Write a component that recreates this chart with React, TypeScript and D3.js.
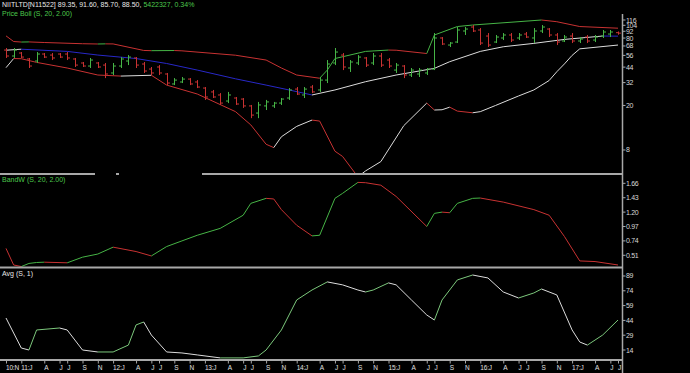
import React from "react";
import * as d3 from "d3";

// monthly bars, month 0 = Nov 2010 ... month 80 = Jul 2017
const opens = [
  62.5, 55.3, 58.8, 52.0, 49.9, 57.6, 56.4, 57.6, 57.6, 52.0,
  47.9, 45.0, 47.9, 45.9, 39.0, 45.0, 49.9, 53.1, 46.9, 42.3,
  44.1, 38.2, 31.1, 32.4, 34.4, 32.4, 28.6, 26.4, 24.8, 21.9,
  23.3, 22.8, 19.8, 17.1, 19.8, 19.8, 21.0, 23.3, 28.0, 24.8,
  29.2, 27.5, 33.7, 47.9, 56.4, 43.2, 47.9, 53.1, 47.9, 55.3,
  50.9, 41.4, 45.0, 37.4, 38.2, 39.0, 42.3, 80.1, 69.3, 73.7,
  92.5, 100.4, 94.4, 83.4, 73.7, 80.1, 85.2, 80.1, 86.9, 80.1,
  92.5, 96.3, 85.2, 75.3, 83.4, 75.3, 81.7, 76.8, 83.4, 86.9,
  89.35,
];
const highs = [
  65.2, 65.2, 60.0, 53.1, 60.0, 58.8, 58.8, 58.8, 60.0, 53.1,
  48.9, 53.1, 48.9, 47.9, 47.9, 54.1, 56.4, 54.1, 48.9, 44.1,
  45.9, 39.0, 35.1, 35.9, 35.1, 33.7, 29.2, 27.5, 25.8, 26.4,
  23.8, 23.3, 20.2, 21.5, 22.4, 21.5, 23.3, 28.6, 29.2, 29.2,
  30.4, 35.9, 50.9, 65.2, 58.8, 50.9, 56.4, 54.1, 58.8, 58.8,
  53.1, 47.9, 45.9, 43.2, 43.2, 43.2, 88.7, 81.7, 73.7, 100.4,
  100.4, 104.6, 98.3, 88.7, 85.2, 88.7, 88.7, 88.7, 90.6, 98.3,
  104.6, 98.3, 88.7, 85.2, 88.7, 81.7, 85.2, 85.2, 94.4, 94.4,
  91.6,
];
const lows = [
  53.1, 53.1, 53.1, 43.2, 47.9, 53.1, 50.9, 53.1, 50.9, 44.1,
  44.1, 43.2, 43.2, 35.1, 37.4, 43.2, 45.9, 43.2, 39.0, 37.4,
  37.4, 30.4, 30.4, 31.7, 30.4, 28.6, 22.4, 23.3, 20.2, 21.0,
  20.2, 19.0, 15.4, 15.4, 18.2, 19.0, 20.2, 22.4, 24.8, 23.3,
  25.8, 26.4, 31.7, 45.9, 41.4, 39.8, 45.9, 44.1, 45.9, 44.1,
  43.2, 39.0, 35.1, 35.9, 35.9, 37.4, 41.4, 69.3, 66.5, 72.2,
  85.2, 90.6, 69.3, 66.5, 72.2, 76.8, 73.7, 76.8, 80.1, 72.2,
  88.7, 81.7, 69.3, 73.7, 72.2, 72.2, 72.2, 73.7, 80.1, 81.7,
  85.7,
];
const closes = [
  55.3, 62.5, 54.1, 45.0, 57.6, 54.1, 53.1, 54.1, 53.1, 45.9,
  45.0, 50.9, 44.1, 38.2, 45.0, 52.0, 54.1, 45.9, 40.6, 39.0,
  39.0, 31.7, 33.7, 34.4, 31.1, 29.2, 23.8, 23.8, 21.0, 24.8,
  20.6, 19.8, 16.4, 20.2, 21.5, 21.0, 22.8, 27.5, 25.3, 28.0,
  26.4, 33.7, 46.9, 60.0, 44.1, 48.9, 54.1, 45.9, 55.3, 45.9,
  45.0, 45.9, 37.4, 41.4, 41.4, 42.3, 80.1, 70.8, 72.2, 94.4,
  96.3, 92.5, 72.2, 69.3, 81.7, 85.2, 76.8, 85.2, 81.7, 92.5,
  100.4, 85.2, 73.7, 81.7, 75.3, 78.4, 75.3, 81.7, 90.6, 90.6,
  88.5,
];

// Bollinger lines, read at the months where they bend
const upperMonths = [0, 1, 2, 3, 5, 10, 12, 13, 14, 18, 19, 22, 23, 30, 34, 36, 38, 41, 42, 43, 47, 50, 51, 55, 56, 59, 61, 70, 72, 75, 80];
const upperBand = [83.7, 74.5, 73.7, 73.9, 73.0, 71.2, 70.8, 71.0, 70.9, 62.0, 61.7, 61.9, 61.5, 56.2, 50.9, 43.2, 37.4, 35.0, 41.4, 52.5, 60.8, 62.5, 62.3, 58.2, 85.2, 101.4, 104.6, 116.0, 112.0, 101.4, 98.0];

const middleMonths = [0, 2, 8, 12, 17, 21, 25, 30, 34, 37, 40, 43, 47, 51, 56, 58, 62, 65, 69, 73, 78, 80];
const middleBand = [62.3, 63.6, 60.8, 56.4, 52.5, 47.4, 41.4, 34.6, 30.4, 27.5, 24.8, 27.5, 32.6, 37.4, 42.9, 49.2, 60.8, 66.9, 71.7, 77.8, 83.4, 83.2];

const lowerMonths = [0, 1, 2, 4, 8, 12, 15, 19, 21, 25, 30, 32, 34, 35, 36, 38, 40, 41, 43, 44, 46, 47, 49, 52, 55, 56, 57, 58, 59, 61, 62, 64, 67, 69, 71, 72, 73, 74, 75, 80];
const lowerBand = [43.5, 52.5, 52.3, 48.5, 43.2, 37.4, 36.6, 37.2, 30.4, 25.3, 17.6, 13.4, 9.0, 8.4, 10.5, 13.0, 14.8, 14.5, 7.8, 7.0, 4.6, 5.2, 6.3, 13.2, 21.0, 18.2, 18.3, 19.3, 17.8, 17.2, 17.6, 20.0, 24.3, 27.5, 33.4, 40.0, 47.0, 56.0, 64.1, 69.3];

const bandWMonths = [0, 1, 2, 3, 4, 5, 8, 10, 12, 14, 17, 19, 21, 23, 25, 28, 31, 32, 34, 35, 36, 38, 40, 41, 43, 44, 46, 47, 49, 51, 55, 56, 57, 58, 59, 61, 62, 65, 69, 71, 73, 75, 77, 80];
const bandW = [0.62, 0.355, 0.33, 0.38, 0.395, 0.4, 0.39, 0.48, 0.53, 0.64, 0.57, 0.5, 0.65, 0.74, 0.83, 0.94, 1.15, 1.34, 1.42, 1.41, 1.24, 0.99, 0.82, 0.83, 1.42, 1.5, 1.675, 1.67, 1.63, 1.45, 0.97, 1.18, 1.2, 1.19, 1.34, 1.42, 1.425, 1.36, 1.24, 1.15, 0.81, 0.42, 0.41, 0.355];

const avgMonths = [0, 2, 3, 4, 7, 8, 10, 12, 14, 16, 17, 18, 19, 21, 23, 25, 28, 31, 33, 34, 36, 38, 40, 42, 44, 46, 47, 48, 50, 51, 53, 55, 56, 57, 59, 61, 63, 65, 67, 69, 70, 72, 74, 75, 76, 78, 80];
const avgLine = [46.4, 16, 14, 34.3, 36.3, 34.3, 14, 12, 12, 19, 39.4, 42.4, 29.2, 12, 11, 9, 6, 6, 8, 14, 34.3, 64.7, 74.8, 83, 80, 74.8, 72.8, 74.8, 82, 80, 64.7, 49.5, 44.4, 64.7, 85, 90, 87, 72.8, 66.7, 71.8, 75.8, 69.8, 34.3, 22.1, 19, 29.2, 44.4];

const priceTicks = [8, 20, 32, 44, 56, 68, 80, 92, 104, 116];
const bandTicks = [0.51, 0.74, 0.97, 1.2, 1.43, 1.66];
const avgTicks = [14, 29, 44, 59, 74, 89];

const xTickMonths = [0, 2, 5, 7, 8, 10, 12, 14, 17, 19, 20, 22, 24, 26, 29, 31, 32, 34, 36, 38, 41, 43, 44, 46, 48, 50, 53, 55, 56, 58, 60, 62, 65, 67, 68, 70, 72, 74, 77, 79, 80];
const xTickLabels = ["10:N", "11:J", "A", "J", "J", "S", "N", "12:J", "A", "J", "J", "S", "N", "13:J", "A", "J", "J", "S", "N", "14:J", "A", "J", "J", "S", "N", "15:J", "A", "J", "J", "S", "N", "16:J", "A", "J", "J", "S", "N", "17:J", "A", "J", "J"];

const RED = "#c83232";
const GREEN = "#46b446";
const WHITE = "#dcdcdc";
const BLUE = "#2828c8";
const AXIS = "#a8a8a8";
const FONT = "'Liberation Sans', Arial, sans-serif";

const x = d3.scaleLinear().domain([0, 80]).range([6, 618]);
const yPrice = d3.scaleLog().domain([4.88, 142.5]).range([174, 10]);
const yBand = d3.scaleLinear().domain([0.315, 1.817]).range([267.5, 173.5]);
const yAvg = d3.scaleLinear().domain([3.87, 97.6]).range([360, 267.5]);

// one segment per step, coloured by direction
const segments = (months, vals, y, up, down, key) =>
  d3.pairs(d3.zip(months, vals)).map(([a, b], i) => (
    <line
      key={key + i}
      x1={x(a[0])}
      y1={y(a[1])}
      x2={x(b[0])}
      y2={y(b[1])}
      stroke={b[1] >= a[1] ? up : down}
      strokeWidth={1}
    />
  ));

const App = () => {
  const bars = opens.map((o, i) => {
    const c = closes[i];
    const col = c >= o ? GREEN : RED;
    const cx = Math.round(x(i)) + 0.5;
    return (
      <g key={"b" + i} stroke={col} strokeWidth={1}>
        <line x1={cx} x2={cx} y1={yPrice(highs[i])} y2={yPrice(lows[i])} />
        <line x1={cx - 2.5} x2={cx} y1={yPrice(o)} y2={yPrice(o)} />
        <line x1={cx} x2={cx + 2.5} y1={yPrice(c)} y2={yPrice(c)} />
      </g>
    );
  });

  const axisLabel = (y, txt, key) => (
    <g key={key}>
      <line x1={622.5} x2={625.5} y1={y} y2={y} stroke={AXIS} />
      <text x={626} y={y + 2.5} fill="#d8d8d8" fontSize={7} fontFamily={FONT} letterSpacing={-0.3}>
        {txt}
      </text>
    </g>
  );

  return (
    <svg
      width={690}
      height={373}
      style={{ position: "absolute", left: 0, top: 0, background: "#000", display: "block" }}
    >
      <rect width={690} height={373} fill="#000" />
      <defs>
        <clipPath id="p1">
          <rect x={0} y={0} width={622} height={173} />
        </clipPath>
        <clipPath id="p2">
          <rect x={0} y={175} width={622} height={92} />
        </clipPath>
        <clipPath id="p3">
          <rect x={0} y={269} width={622} height={90} />
        </clipPath>
      </defs>

      {/* price panel */}
      <g clipPath="url(#p1)">
        {segments(upperMonths, upperBand, yPrice, GREEN, RED, "u")}
        {segments(middleMonths, middleBand, yPrice, WHITE, BLUE, "m")}
        {segments(lowerMonths, lowerBand, yPrice, WHITE, RED, "l")}
        {bars}
      </g>

      {/* band width panel */}
      <g clipPath="url(#p2)">{segments(bandWMonths, bandW, yBand, GREEN, RED, "w")}</g>

      {/* avg panel */}
      <g clipPath="url(#p3)">{segments(avgMonths, avgLine, yAvg, "#7cc87c", WHITE, "a")}</g>

      {/* separators */}
      <g stroke={AXIS} strokeWidth={2}>
        <line x1={0} x2={95} y1={174} y2={174} />
        <line x1={116} x2={119} y1={174} y2={174} />
        <line x1={202} x2={622} y1={174} y2={174} />
        <line x1={0} x2={622} y1={267.5} y2={267.5} />
        <line x1={0} x2={622} y1={360} y2={360} />
      </g>
      <line x1={622.5} x2={622.5} y1={14} y2={373} stroke={AXIS} strokeWidth={1.5} />

      {/* right axes */}
      {priceTicks.map((t) => axisLabel(yPrice(t), String(t), "pt" + t))}
      {bandTicks.map((t) => axisLabel(yBand(t), t.toFixed(2), "bt" + t))}
      {avgTicks.map((t) => axisLabel(yAvg(t), String(t), "at" + t))}

      {/* time axis */}
      {xTickMonths.map((m, i) => (
        <g key={"x" + i}>
          <line x1={x(m) + 0.5} x2={x(m) + 0.5} y1={360} y2={363.5} stroke={AXIS} />
          <text x={x(m)} y={369.5} fill="#e0e0e0" fontSize={6.5} fontFamily={FONT} letterSpacing={-0.2}>
            {xTickLabels[i]}
          </text>
        </g>
      ))}

      {/* titles */}
      <text x={2} y={6.5} fontSize={7} fontFamily={FONT} fill="#e8e8e8">
        <tspan>NIITLTD[N11522]  89.35, 91.60, 85.70, 88.50, </tspan>
        <tspan fill="#4cc84c">5422327, 0.34%</tspan>
      </text>
      <text x={2} y={15.5} fontSize={7} fontFamily={FONT} fill="#4cc84c">
        Price Boll (S, 20, 2.00)
      </text>
      <text x={2} y={181.5} fontSize={7} fontFamily={FONT} fill="#4cc84c">
        BandW (S, 20, 2.00)
      </text>
      <text x={2} y={275.5} fontSize={7} fontFamily={FONT} fill="#e8e8e8">
        Avg (S, 1)
      </text>
    </svg>
  );
};

export default App;
